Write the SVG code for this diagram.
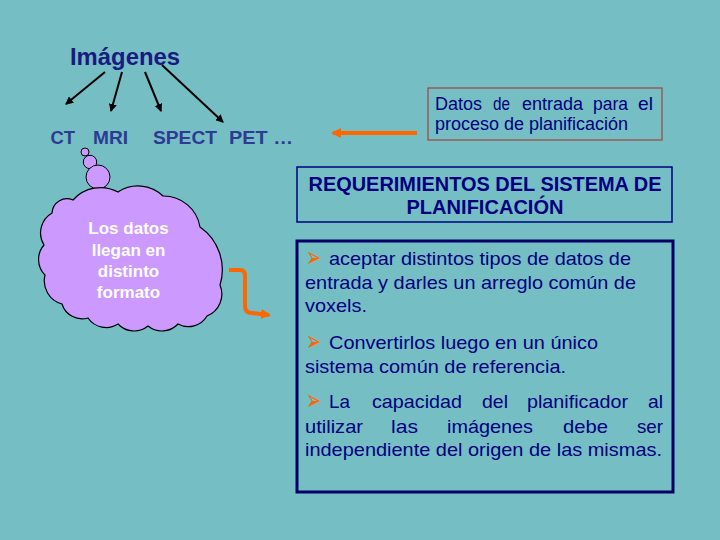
<svg xmlns="http://www.w3.org/2000/svg" width="720" height="540" viewBox="0 0 720 540">
<defs>
<style>
.title{font-family:"Liberation Sans",Arial,sans-serif;font-weight:bold;font-size:23px;fill:#1a1a80}
.mod{font-family:"Liberation Sans",Arial,sans-serif;font-weight:bold;font-size:19px;fill:#2e3a94}
.cloudtxt{font-family:"Liberation Sans",Arial,sans-serif;font-weight:bold;font-size:17px;fill:#ffffff;text-anchor:middle}
.note{font-family:"Liberation Sans",Arial,sans-serif;font-size:17.5px;fill:#000080}
.head{font-family:"Liberation Sans",Arial,sans-serif;font-weight:bold;font-size:20px;fill:#000080;text-anchor:middle}
.body{font-family:"Liberation Sans",Arial,sans-serif;font-size:19px;fill:#000080}
.bul{font-family:"DejaVu Sans",sans-serif;font-size:20px;fill:#ff6600;font-weight:bold}
.blk{stroke:#000;stroke-width:2;fill:none}
.org{stroke:#ff6600;stroke-width:4;fill:none}
</style>
<marker id="ah" markerWidth="8" markerHeight="8" refX="7" refY="4" orient="auto" markerUnits="userSpaceOnUse"><path d="M0,0 L8,4 L0,8 z" fill="#000"/></marker>
<marker id="oh" markerWidth="10" markerHeight="10" refX="8" refY="5" orient="auto" markerUnits="userSpaceOnUse"><path d="M0,0 L10,5 L0,10 z" fill="#ff6600"/></marker>
</defs>
<rect width="720" height="540" fill="#74bec4"/>

<g id="imagenes"><text class="title" x="70" y="65" textLength="110" lengthAdjust="spacingAndGlyphs">Imágenes</text></g>
<g id="modalidades">
<text class="mod" x="50.5" y="144" textLength="24.5" lengthAdjust="spacingAndGlyphs">CT</text>
<text class="mod" x="93" y="144" textLength="35" lengthAdjust="spacingAndGlyphs">MRI</text>
<text class="mod" x="153" y="144" textLength="64" lengthAdjust="spacingAndGlyphs">SPECT</text>
<text class="mod" x="229" y="144" textLength="64" lengthAdjust="spacingAndGlyphs">PET …</text>
</g>

<g id="cloud">
<circle cx="85" cy="152" r="4" fill="#cc99ff" stroke="#000" stroke-width="1"/>
<circle cx="90" cy="162" r="6.7" fill="#cc99ff" stroke="#000" stroke-width="1"/>
<circle cx="98" cy="177" r="12" fill="#cc99ff" stroke="#000" stroke-width="1"/>
<path d="M52,213 A15,15 0 0 1 73,200 A36.7,36.7 0 0 1 118,192 A36,36 0 0 1 163,196 A37,37 0 0 1 200,227 A52,52 0 0 1 220,285 A23.6,23.6 0 0 1 207,316 A21.75,21.75 0 0 1 178,324 A22,22 0 0 1 148,326 A22,22 0 0 1 118,324 A22,22 0 0 1 88,318 A21,21 0 0 1 62,304 A24,24 0 0 1 45,275 A22,22 0 0 1 44,245 A23,23 0 0 1 52,213 Z" fill="#cc99ff" stroke="#000" stroke-width="1.2"/>
<text class="cloudtxt" x="128.5" y="234">Los datos</text>
<text class="cloudtxt" x="128.5" y="256">llegan en</text>
<text class="cloudtxt" x="128.5" y="277">distinto</text>
<text class="cloudtxt" x="128.5" y="298">formato</text>
</g>

<g id="datos">
<rect x="428" y="88" width="234" height="52" fill="none" stroke="#a0443c" stroke-width="1.2"/>
<text class="note" x="435" y="110" textLength="47" lengthAdjust="spacingAndGlyphs">Datos</text>
<text class="note" x="493" y="110" textLength="17" lengthAdjust="spacingAndGlyphs">de</text>
<text class="note" x="522" y="110" textLength="61" lengthAdjust="spacingAndGlyphs">entrada</text>
<text class="note" x="593" y="110" textLength="35" lengthAdjust="spacingAndGlyphs">para</text>
<text class="note" x="638" y="110" textLength="15" lengthAdjust="spacingAndGlyphs">el</text>
<text class="note" x="435" y="130" textLength="193" lengthAdjust="spacingAndGlyphs">proceso de planificación</text>
</g>

<g id="requerimientos">
<rect x="297" y="167" width="375" height="55" fill="none" stroke="#000080" stroke-width="1.5"/>
<text class="head" x="485" y="191" textLength="353" lengthAdjust="spacingAndGlyphs">REQUERIMIENTOS DEL SISTEMA DE</text>
<text class="head" x="485" y="214" textLength="157" lengthAdjust="spacingAndGlyphs">PLANIFICACIÓN</text>
</g>

<g id="lista">
<rect x="297" y="241" width="376" height="251" fill="none" stroke="#000066" stroke-width="3"/>
<text class="bul" transform="translate(306,267) scale(0.9,1.45)">➢</text>
<text class="body" x="329" y="265" textLength="302" lengthAdjust="spacingAndGlyphs">aceptar distintos tipos de datos de</text>
<text class="body" x="305" y="289" textLength="331" lengthAdjust="spacingAndGlyphs">entrada y darles un arreglo común de</text>
<text class="body" x="305" y="312" textLength="62" lengthAdjust="spacingAndGlyphs">voxels.</text>
<text class="bul" transform="translate(306,351) scale(0.9,1.45)">➢</text>
<text class="body" x="329" y="349" textLength="269" lengthAdjust="spacingAndGlyphs">Convertirlos luego en un único</text>
<text class="body" x="305" y="373" textLength="261" lengthAdjust="spacingAndGlyphs">sistema común de referencia.</text>
<text class="bul" transform="translate(306,410) scale(0.9,1.45)">➢</text>
<text class="body" x="329" y="408" textLength="21" lengthAdjust="spacingAndGlyphs">La</text>
<text class="body" x="372" y="408" textLength="90" lengthAdjust="spacingAndGlyphs">capacidad</text>
<text class="body" x="482" y="408" textLength="26" lengthAdjust="spacingAndGlyphs">del</text>
<text class="body" x="527" y="408" textLength="101" lengthAdjust="spacingAndGlyphs">planificador</text>
<text class="body" x="648" y="408" textLength="15" lengthAdjust="spacingAndGlyphs">al</text>
<text class="body" x="305" y="433" textLength="58" lengthAdjust="spacingAndGlyphs">utilizar</text>
<text class="body" x="391" y="433" textLength="27" lengthAdjust="spacingAndGlyphs">las</text>
<text class="body" x="447" y="433" textLength="86" lengthAdjust="spacingAndGlyphs">imágenes</text>
<text class="body" x="563" y="433" textLength="45" lengthAdjust="spacingAndGlyphs">debe</text>
<text class="body" x="637" y="433" textLength="26" lengthAdjust="spacingAndGlyphs">ser</text>
<text class="body" x="305" y="456" textLength="357" lengthAdjust="spacingAndGlyphs">independiente del origen de las mismas.</text>
</g>

<g id="connectors">
<line class="blk" x1="105" y1="72" x2="66" y2="104" marker-end="url(#ah)"/>
<line class="blk" x1="122" y1="72" x2="111" y2="111" marker-end="url(#ah)"/>
<line class="blk" x1="145" y1="72" x2="161" y2="111" marker-end="url(#ah)"/>
<line class="blk" x1="162" y1="65" x2="223" y2="122" marker-end="url(#ah)"/>
<line class="org" x1="417" y1="133" x2="333" y2="133" marker-end="url(#oh)"/>
<path class="org" stroke-width="3" d="M229,270 L240,270 Q245,270 245,276 L245,306 Q245,313 252,313 L269,315" marker-end="url(#oh)"/>
</g>
</svg>
